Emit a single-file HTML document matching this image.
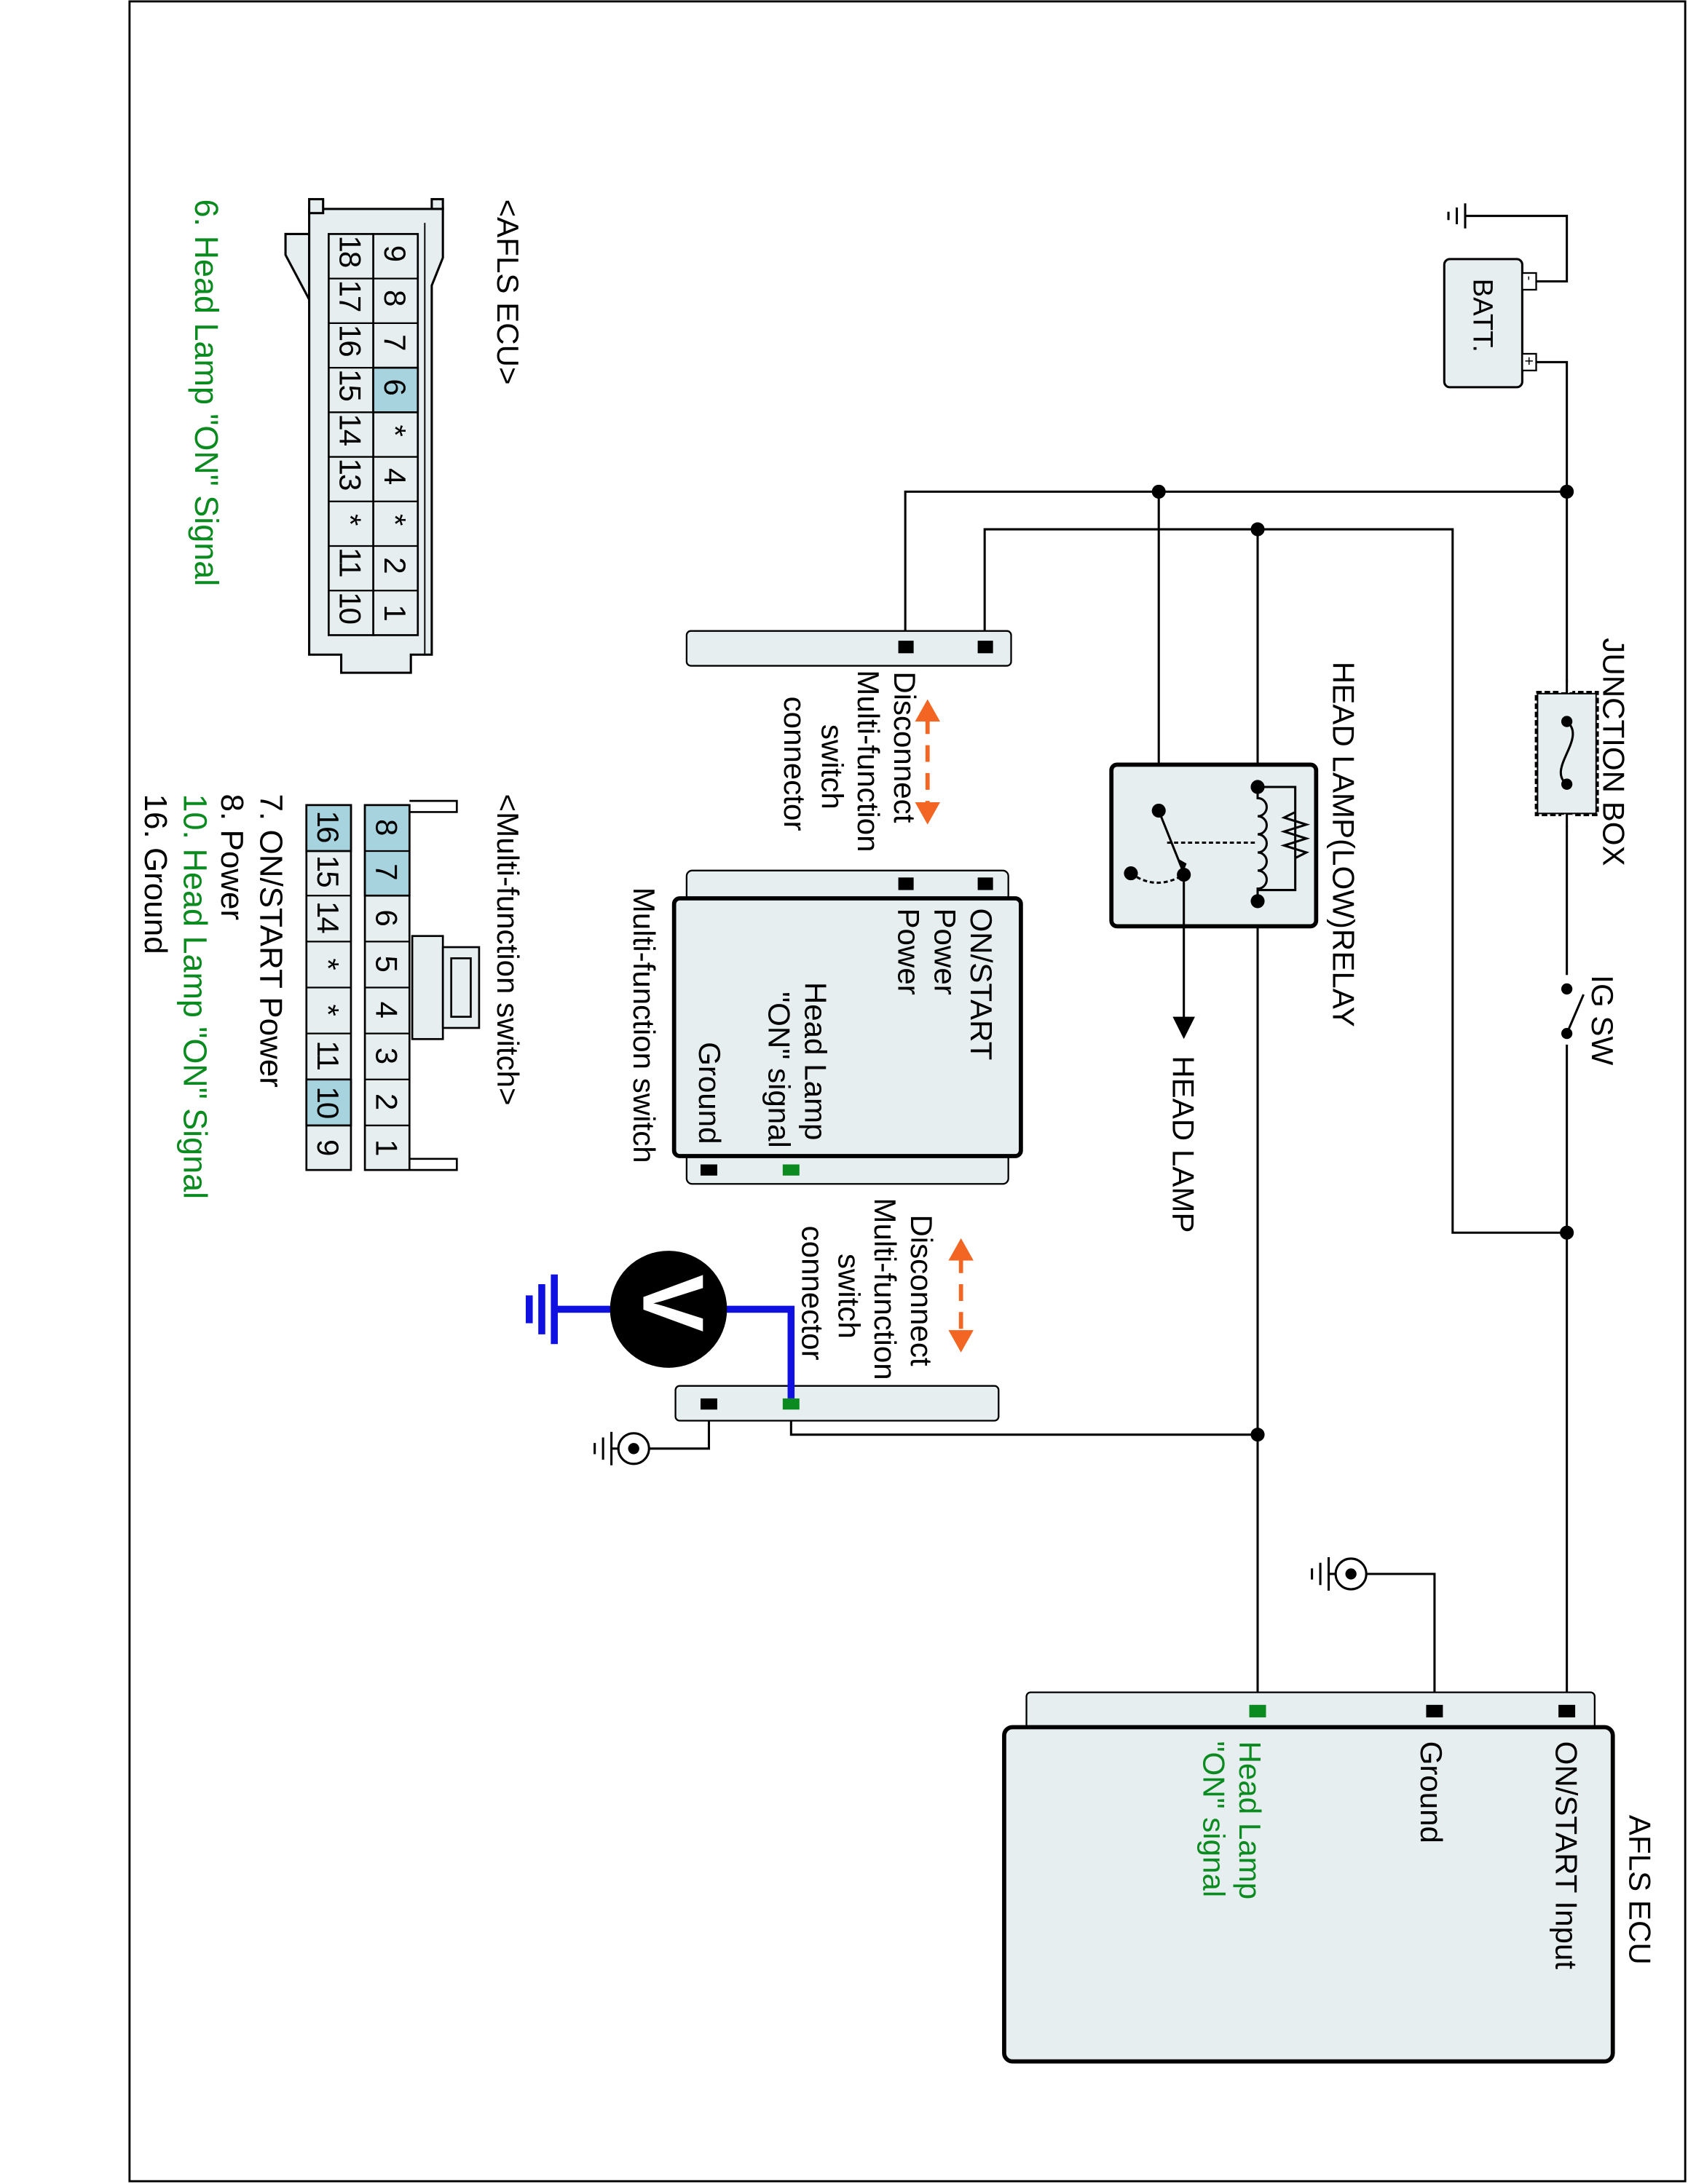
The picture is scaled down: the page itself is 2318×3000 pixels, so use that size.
<!DOCTYPE html>
<html><head><meta charset="utf-8"><style>html,body{margin:0;padding:0;background:#fff}svg{display:block}</style></head>
<body>
<svg xmlns="http://www.w3.org/2000/svg" width="2318" height="3000" viewBox="0 0 1212 1568" preserveAspectRatio="none" font-family="Liberation Sans, Arial, sans-serif" font-size="22">
<rect x="93" y="1" width="1117" height="1565" fill="#fff" stroke="#000" stroke-width="1.5"/>
<g fill="none" stroke="#000" stroke-width="1.6">
<polyline points="1100,202 1125,202 1125,155 1052,155"/>
<line x1="1052" y1="146" x2="1052" y2="164"/><line x1="1046" y1="149" x2="1046" y2="161"/><line x1="1040" y1="152" x2="1040" y2="158"/>
<polyline points="1100,260 1125,260 1125,1228"/>
<polyline points="650,465 650,353 1125,353"/>
<polyline points="707,465 707,380 1043,380 1043,885 1125,885"/>
<line x1="832" y1="353" x2="832" y2="582"/>
<line x1="903" y1="380" x2="903" y2="565"/>
<line x1="903" y1="647" x2="903" y2="1228"/>
<polyline points="568,1008 568,1030 903,1030"/>
<polyline points="509,1008 509,1040 466,1040"/>
<polyline points="1030,1228 1030,1130 981,1130"/>
</g>
<rect x="1037" y="186" width="56" height="92" rx="4" fill="#e6eef0" stroke="#000" stroke-width="1.6"/>
<rect x="1093" y="196" width="10" height="12" fill="#fff" stroke="#000" stroke-width="1.2"/>
<rect x="1093" y="254" width="10" height="12" fill="#fff" stroke="#000" stroke-width="1.2"/>
<text transform="translate(1058,200) rotate(90)" font-size="20">BATT.</text>
<text transform="translate(1095,198) rotate(90)" font-size="10">-</text>
<text transform="translate(1094,256) rotate(90)" font-size="11">+</text>
<g fill="#000"><circle cx="1125" cy="353" r="5"/><circle cx="832" cy="353" r="5"/><circle cx="903" cy="380" r="5"/><circle cx="1125" cy="885" r="5"/><circle cx="903" cy="1030" r="5"/></g>
<rect x="1103" y="497" width="44" height="88" fill="#e6eef0" stroke="#000" stroke-width="2" stroke-dasharray="4,2"/>
<rect x="1104" y="498" width="42" height="86" fill="none" stroke="#000" stroke-width="1"/>
<circle cx="1125" cy="518" r="4" fill="#000"/><circle cx="1125" cy="563" r="4" fill="#000"/>
<path d="M1125,518 C1140,530 1110,552 1125,563" fill="none" stroke="#000" stroke-width="1.6"/>
<rect x="1121" y="490" width="8" height="7" fill="#fff"/><rect x="1121" y="585" width="8" height="8" fill="#fff"/>
<line x1="1125" y1="488" x2="1125" y2="498" stroke="#000" stroke-width="1.6"/><line x1="1125" y1="584" x2="1125" y2="594" stroke="#000" stroke-width="1.6"/>
<text transform="translate(1151,458) rotate(90)">JUNCTION BOX</text>
<rect x="1118" y="700" width="14" height="50" fill="#fff"/>
<circle cx="1125" cy="710" r="4" fill="#000"/><circle cx="1125" cy="742" r="4" fill="#000"/>
<line x1="1125" y1="742" x2="1137" y2="714" stroke="#000" stroke-width="1.6"/>
<text transform="translate(1143,700) rotate(90)">IG SW</text>
<rect x="798" y="549" width="147" height="116" rx="4" fill="#e6eef0" stroke="#000" stroke-width="3"/>
<g stroke="#000" stroke-width="1.6" fill="none">
<polyline points="903,565 930,565 930,639 903,639"/>
<polyline points="930,583 922,587 938,592 922,597 938,602 922,607 938,612 930,616"/>
<path d="M903,565 V573 a6,6 0 0 1 0,13 a6,6 0 0 1 0,13 a6,6 0 0 1 0,13 a6,6 0 0 1 0,13 a6,6 0 0 1 0,13 V647"/>
<line x1="838" y1="605" x2="903" y2="605" stroke-dasharray="3,2"/>
<line x1="832" y1="582" x2="850" y2="627"/>
<path d="M812,627 Q830,640 850,628" stroke-dasharray="3,2"/>
<line x1="850" y1="628" x2="850" y2="735"/>
</g>
<g fill="#000"><circle cx="903" cy="565" r="5"/><circle cx="903" cy="647" r="5"/><circle cx="832" cy="582" r="5"/><circle cx="850" cy="628" r="5"/><circle cx="812" cy="627" r="5"/>
<polygon points="845,616 852,620 850,625"/><polygon points="842,730 858,730 850,746"/></g>
<text transform="translate(957,475) rotate(90)">HEAD LAMP(LOW)RELAY</text>
<text transform="translate(842,758) rotate(90)">HEAD LAMP</text>
<rect x="493" y="453" width="233" height="25" rx="3" fill="#e6eef0" stroke="#000" stroke-width="1.2"/>
<rect x="645" y="460" width="11" height="9" fill="#000"/><rect x="702" y="460" width="11" height="9" fill="#000"/>
<text transform="translate(642,482) rotate(90)">Disconnect</text>
<text transform="translate(616,481) rotate(90)">Multi-function</text>
<text transform="translate(590,520) rotate(90)">switch</text>
<text transform="translate(563,500) rotate(90)">connector</text>
<g stroke="#f26522" stroke-width="3" fill="#f26522">
<line x1="666" y1="515" x2="666" y2="580" stroke-dasharray="12,8"/>
<polygon points="657,518 675,518 666,502" stroke="none"/><polygon points="657,576 675,576 666,592" stroke="none"/>
<line x1="690" y1="902" x2="690" y2="958" stroke-dasharray="12,8"/>
<polygon points="681,905 699,905 690,889" stroke="none"/><polygon points="681,955 699,955 690,971" stroke="none"/>
</g>
<rect x="493" y="625" width="231" height="225" rx="4" fill="#e6eef0" stroke="#000" stroke-width="1.2"/>
<rect x="484" y="645" width="249" height="185" rx="4" fill="#e6eef0" stroke="#000" stroke-width="3"/>
<rect x="645" y="630" width="11" height="9" fill="#000"/><rect x="702" y="630" width="11" height="9" fill="#000"/>
<rect x="503" y="836" width="12" height="8" fill="#000"/><rect x="562" y="836" width="12" height="8" fill="#0a8a1f"/>
<text transform="translate(697,652) rotate(90)">ON/START</text>
<text transform="translate(671,652) rotate(90)">Power</text>
<text transform="translate(645,652) rotate(90)">Power</text>
<text transform="translate(578,705) rotate(90)">Head Lamp</text>
<text transform="translate(552,712) rotate(90)">"ON" signal</text>
<text transform="translate(502,748) rotate(90)">Ground</text>
<text transform="translate(455,637) rotate(90)">Multi-function switch</text>
<rect x="485" y="995" width="232" height="25" rx="3" fill="#e6eef0" stroke="#000" stroke-width="1.2"/>
<rect x="503" y="1004" width="12" height="8" fill="#000"/><rect x="562" y="1004" width="12" height="8" fill="#0a8a1f"/>
<text transform="translate(654,872) rotate(90)">Disconnect</text>
<text transform="translate(628,860) rotate(90)">Multi-function</text>
<text transform="translate(602,900) rotate(90)">switch</text>
<text transform="translate(576,880) rotate(90)">connector</text>
<g stroke="#1010e0" stroke-width="5" fill="none">
<polyline points="568,1004 568,940 520,940"/>
<line x1="440" y1="940" x2="398" y2="940"/>
<line x1="398" y1="915" x2="398" y2="965"/><line x1="389" y1="922" x2="389" y2="958"/><line x1="380" y1="930" x2="380" y2="950"/>
</g>
<circle cx="480" cy="940" r="42" fill="#000"/>
<text transform="translate(462,915) rotate(90)" font-size="62" font-weight="bold" fill="#fff">V</text>
<g stroke="#000" stroke-width="1.6" fill="none">
<circle cx="455" cy="1040" r="11"/><line x1="444" y1="1040" x2="439" y2="1040"/>
<line x1="439" y1="1028" x2="439" y2="1052"/><line x1="433" y1="1032" x2="433" y2="1048"/><line x1="427" y1="1036" x2="427" y2="1044"/>
<circle cx="970" cy="1130" r="11"/><line x1="959" y1="1130" x2="954" y2="1130"/>
<line x1="954" y1="1118" x2="954" y2="1142"/><line x1="948" y1="1122" x2="948" y2="1138"/><line x1="942" y1="1126" x2="942" y2="1134"/>
</g>
<circle cx="455" cy="1040" r="4" fill="#000"/><circle cx="970" cy="1130" r="4" fill="#000"/>
<rect x="737" y="1215" width="408" height="30" rx="3" fill="#e6eef0" stroke="#000" stroke-width="1.2"/>
<rect x="721" y="1240" width="437" height="240" rx="6" fill="#e6eef0" stroke="#000" stroke-width="3"/>
<rect x="1119" y="1224" width="12" height="9" fill="#000"/><rect x="1024" y="1224" width="12" height="9" fill="#000"/><rect x="897" y="1224" width="12" height="9" fill="#0a8a1f"/>
<text transform="translate(1170,1303) rotate(90)">AFLS ECU</text>
<text transform="translate(1117,1250) rotate(90)">ON/START Input</text>
<text transform="translate(1020,1250) rotate(90)">Ground</text>
<text transform="translate(890,1250) rotate(90)" fill="#0a8a1f">Head Lamp</text>
<text transform="translate(864,1250) rotate(90)" fill="#0a8a1f">"ON" signal</text>
<g stroke="#000" stroke-width="1.6" fill="#e6eef0">
<polygon points="222,168 205,168 205,183 222,215"/>
<path d="M222,150 H318 V185 L310,205 V470 H295 V483 H245 V470 H222 Z"/>
<rect x="310" y="143" width="8" height="7"/>
<rect x="222" y="143" width="10" height="10"/>
</g>
<line x1="232" y1="150" x2="310" y2="150" stroke="#000" stroke-width="1.6"/>
<line x1="305" y1="160" x2="305" y2="470" stroke="#000" stroke-width="1"/>
<g stroke="#000" stroke-width="1.4" fill="#e6eef0">
<rect x="268" y="168" width="32" height="288"/><rect x="236" y="168" width="32" height="288"/>
<rect x="268" y="264" width="32" height="32" fill="#a7d3de"/>
</g>
<g stroke="#000" stroke-width="1.2">
<line x1="236" y1="200" x2="300" y2="200"/><line x1="236" y1="232" x2="300" y2="232"/><line x1="236" y1="264" x2="300" y2="264"/><line x1="236" y1="296" x2="300" y2="296"/><line x1="236" y1="328" x2="300" y2="328"/><line x1="236" y1="360" x2="300" y2="360"/><line x1="236" y1="392" x2="300" y2="392"/><line x1="236" y1="424" x2="300" y2="424"/>
</g>
<g font-size="22">
<text transform="translate(276,176) rotate(90)">9</text><text transform="translate(276,208) rotate(90)">8</text><text transform="translate(276,240) rotate(90)">7</text><text transform="translate(276,272) rotate(90)">6</text><text transform="translate(276,305) rotate(90)">*</text><text transform="translate(276,336) rotate(90)">4</text><text transform="translate(276,369) rotate(90)">*</text><text transform="translate(276,400) rotate(90)">2</text><text transform="translate(276,434) rotate(90)">1</text>
<text transform="translate(244,169) rotate(90)" letter-spacing="-1">18</text><text transform="translate(244,201) rotate(90)" letter-spacing="-1">17</text><text transform="translate(244,233) rotate(90)" letter-spacing="-1">16</text><text transform="translate(244,265) rotate(90)" letter-spacing="-1">15</text><text transform="translate(244,297) rotate(90)" letter-spacing="-1">14</text><text transform="translate(244,329) rotate(90)" letter-spacing="-1">13</text><text transform="translate(244,369) rotate(90)">*</text><text transform="translate(244,393) rotate(90)" letter-spacing="-1">11</text><text transform="translate(244,425) rotate(90)" letter-spacing="-1">10</text>
</g>
<text transform="translate(357,143) rotate(90)">&lt;AFLS ECU&gt;</text>
<text transform="translate(140,143) rotate(90)" fill="#0a8a1f" font-size="23.5">6. Head Lamp "ON" Signal</text>
<g stroke="#000" stroke-width="1.4" fill="#e6eef0">
<polyline points="294,575 328,575 328,583 294,583" fill="#fff"/>
<polyline points="294,832 328,832 328,840 294,840" fill="#fff"/>
<rect x="296" y="672" width="22" height="74"/>
<rect x="318" y="680" width="26" height="58"/>
<rect x="324" y="688" width="14" height="42"/>
<rect x="262" y="578" width="32" height="262"/><rect x="220" y="578" width="32" height="262"/>
<rect x="262" y="578" width="32" height="65" fill="#a7d3de"/>
<rect x="220" y="578" width="32" height="33" fill="#a7d3de"/>
<rect x="220" y="775" width="32" height="33" fill="#a7d3de"/>
</g>
<g stroke="#000" stroke-width="1.2">
<line x1="262" y1="611" x2="294" y2="611"/><line x1="262" y1="643" x2="294" y2="643"/><line x1="262" y1="676" x2="294" y2="676"/><line x1="262" y1="709" x2="294" y2="709"/><line x1="262" y1="742" x2="294" y2="742"/><line x1="262" y1="775" x2="294" y2="775"/><line x1="262" y1="808" x2="294" y2="808"/>
<line x1="220" y1="611" x2="252" y2="611"/><line x1="220" y1="643" x2="252" y2="643"/><line x1="220" y1="676" x2="252" y2="676"/><line x1="220" y1="709" x2="252" y2="709"/><line x1="220" y1="742" x2="252" y2="742"/><line x1="220" y1="775" x2="252" y2="775"/><line x1="220" y1="808" x2="252" y2="808"/>
</g>
<g font-size="22">
<text transform="translate(270,588) rotate(90)">8</text><text transform="translate(270,620) rotate(90)">7</text><text transform="translate(270,653) rotate(90)">6</text><text transform="translate(270,686) rotate(90)">5</text><text transform="translate(270,719) rotate(90)">4</text><text transform="translate(270,752) rotate(90)">3</text><text transform="translate(270,785) rotate(90)">2</text><text transform="translate(270,818) rotate(90)">1</text>
<text transform="translate(228,582) rotate(90)" letter-spacing="-1">16</text><text transform="translate(228,614) rotate(90)" letter-spacing="-1">15</text><text transform="translate(228,647) rotate(90)" letter-spacing="-1">14</text><text transform="translate(228,688) rotate(90)">*</text><text transform="translate(228,721) rotate(90)">*</text>
<text transform="translate(228,747) rotate(90)" letter-spacing="-1">11</text>
<text transform="translate(228,780) rotate(90)" letter-spacing="-1">10</text>
<text transform="translate(228,818) rotate(90)">9</text>
</g>
<text transform="translate(357,570) rotate(90)">&lt;Multi-function switch&gt;</text>
<g font-size="23">
<text transform="translate(187,570) rotate(90)">7. ON/START Power</text>
<text transform="translate(159,570) rotate(90)">8. Power</text>
<text transform="translate(132,570) rotate(90)" fill="#0a8a1f" font-size="23.5">10. Head Lamp "ON" Signal</text>
<text transform="translate(104,570) rotate(90)">16. Ground</text>
</g>
</svg>
</body></html>
